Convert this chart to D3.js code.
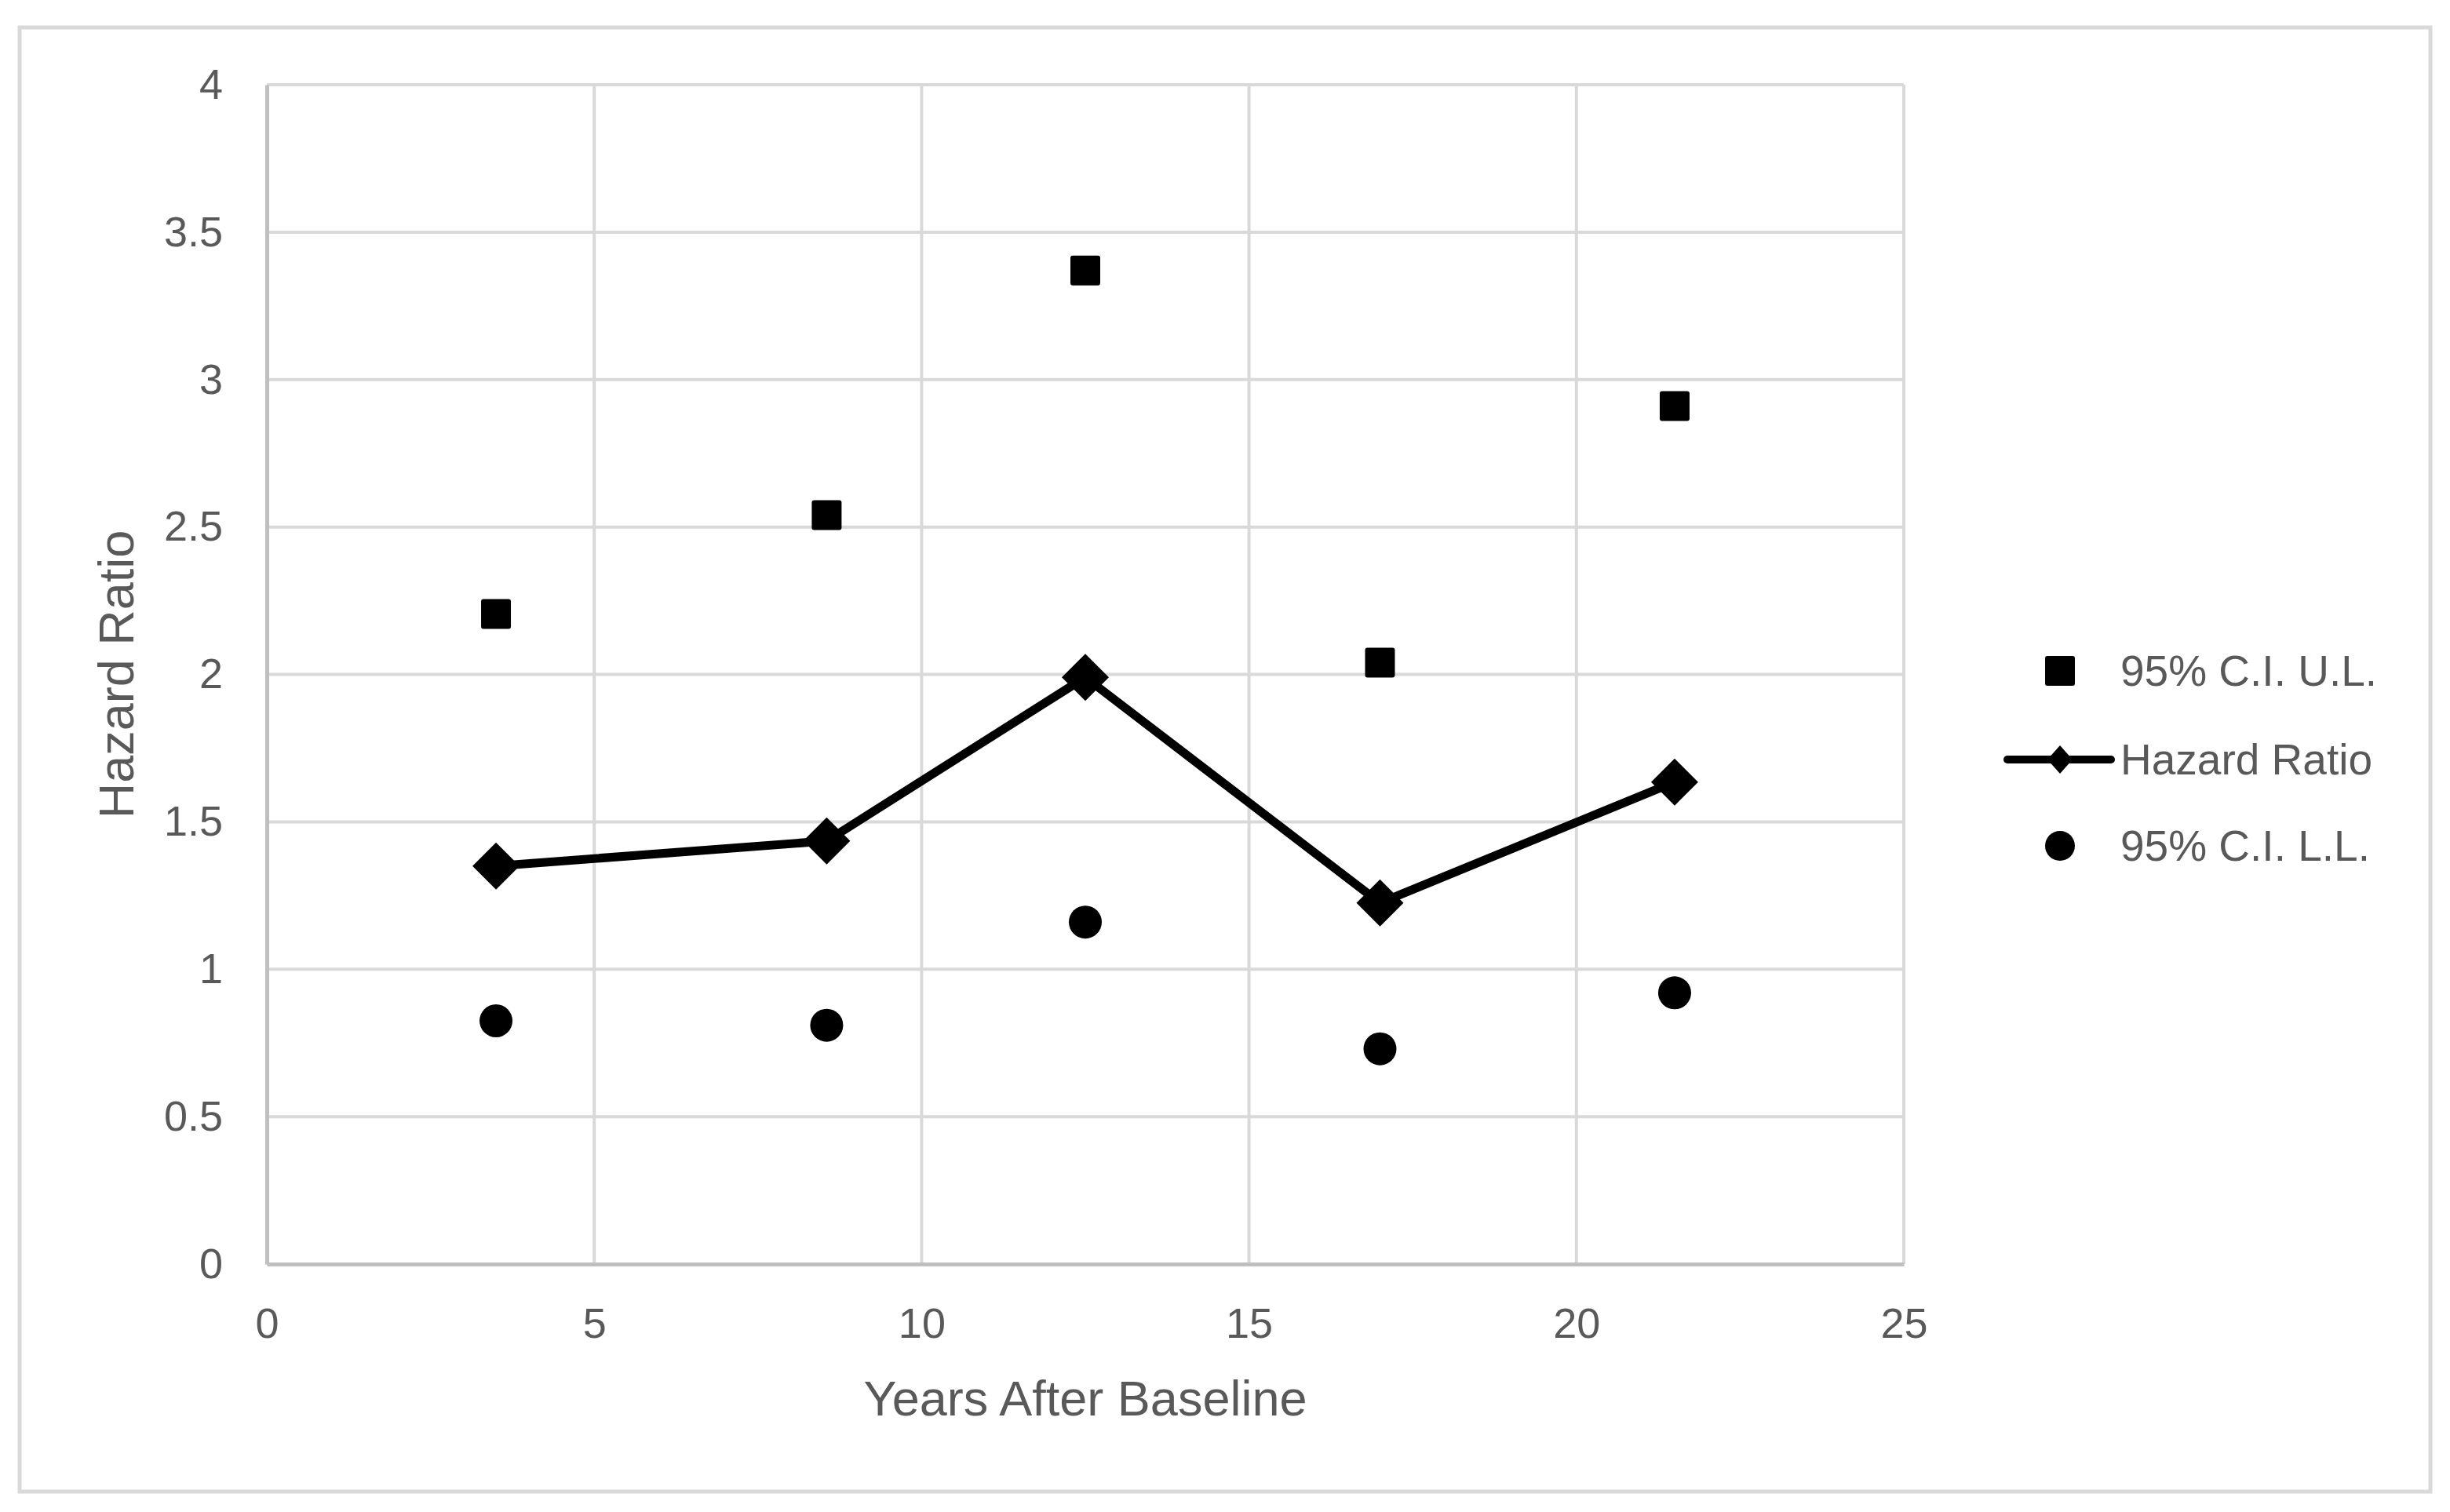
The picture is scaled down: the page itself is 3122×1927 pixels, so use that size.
<!DOCTYPE html>
<html>
<head>
<meta charset="utf-8">
<script src="https://cdn.jsdelivr.net/npm/d3@7"></script>
<style>
  html, body { margin: 0; padding: 0; background: #ffffff; }
  svg { display: block; }
</style>
</head>
<body>
<div id="chart"></div>
<script>
// ---- Data ----
const years = [3.5, 8.55, 12.5, 17, 21.5];
const hazardRatio = [1.35, 1.435, 1.99, 1.225, 1.635];
const ciUpper = [2.205, 2.54, 3.37, 2.04, 2.91];
const ciLower = [0.825, 0.81, 1.16, 0.73, 0.92];
const xTicks = [0, 5, 10, 15, 20, 25];
const yTicks = [0, 0.5, 1, 1.5, 2, 2.5, 3, 3.5, 4];
const seriesNames = ["95% C.I. U.L.", "Hazard Ratio", "95% C.I. L.L."];
const xTitle = "Years After Baseline";
const yTitle = "Hazard Ratio";

// ---- Layout ----
const W = 3122, H = 1927;
const plot = { left: 340, right: 2426, top: 108, bottom: 1611 };
const textColor = "#595959";
const gridColor = "#d9d9d9";
const axisColor = "#bfbfbf";
const tickFont = "'Liberation Sans', Arial, sans-serif";

const svg = d3.select("#chart").append("svg")
  .attr("width", W).attr("height", H);

// outer border
svg.append("rect")
  .attr("x", 25).attr("y", 35)
  .attr("width", 3097 - 25).attr("height", 1901 - 35)
  .attr("fill", "#ffffff")
  .attr("stroke", gridColor).attr("stroke-width", 5);

const x = d3.scaleLinear().domain([0, 25]).range([plot.left, plot.right]);
const y = d3.scaleLinear().domain([0, 4]).range([plot.bottom, plot.top]);

// gridlines
const grid = svg.append("g");
grid.selectAll("line.h").data(yTicks.filter(d => d > 0)).join("line")
  .attr("x1", plot.left).attr("x2", plot.right)
  .attr("y1", d => y(d)).attr("y2", d => y(d))
  .attr("stroke", gridColor).attr("stroke-width", 4);
grid.selectAll("line.v").data(xTicks.filter(d => d > 0)).join("line")
  .attr("y1", plot.top).attr("y2", plot.bottom)
  .attr("x1", d => x(d)).attr("x2", d => x(d))
  .attr("stroke", gridColor).attr("stroke-width", 4);

// axes
const yAxis = svg.append("g")
  .attr("transform", `translate(${plot.left},0)`)
  .call(d3.axisLeft(y).tickValues(yTicks).tickFormat(d => String(d)).tickSize(0).tickPadding(56));
const xAxis = svg.append("g")
  .attr("transform", `translate(0,${plot.bottom})`)
  .call(d3.axisBottom(x).tickValues(xTicks).tickFormat(d => String(d)).tickSize(0).tickPadding(56));
[yAxis, xAxis].forEach(g => {
  g.select(".domain").attr("stroke", axisColor).attr("stroke-width", 5);
  g.selectAll("text")
    .attr("fill", textColor)
    .style("font-family", tickFont)
    .style("font-size", "54px");
});

// axis titles
svg.append("text")
  .attr("x", (plot.left + plot.right) / 2).attr("y", 1782)
  .attr("text-anchor", "middle").attr("dominant-baseline", "central")
  .attr("fill", textColor)
  .style("font-family", tickFont).style("font-size", "63px")
  .text(xTitle);
svg.append("text")
  .attr("transform", `translate(148,${(plot.top + plot.bottom) / 2}) rotate(-90)`)
  .attr("text-anchor", "middle").attr("dominant-baseline", "central")
  .attr("fill", textColor)
  .style("font-family", tickFont).style("font-size", "63px")
  .text(yTitle);

// markers
const sqSize = 38, circR = 21, diaHalf = 30;
function diamondPath(cx, cy, h) {
  return `M${cx},${cy - h}L${cx + h},${cy}L${cx},${cy + h}L${cx - h},${cy}Z`;
}

const marks = svg.append("g");
// upper limit squares
marks.selectAll("rect.ul").data(years).join("rect")
  .attr("class", "ul")
  .attr("x", (d) => x(d) - sqSize / 2)
  .attr("y", (d, i) => y(ciUpper[i]) - sqSize / 2)
  .attr("width", sqSize).attr("height", sqSize).attr("rx", 3)
  .attr("fill", "#000");

// hazard ratio line
const line = d3.line().x(d => x(d[0])).y(d => y(d[1]));
marks.append("path")
  .datum(years.map((d, i) => [d, hazardRatio[i]]))
  .attr("d", line)
  .attr("fill", "none").attr("stroke", "#000")
  .attr("stroke-width", 11).attr("stroke-linejoin", "round").attr("stroke-linecap", "round");
marks.selectAll("path.hr").data(years).join("path")
  .attr("class", "hr")
  .attr("d", (d, i) => diamondPath(x(d), y(hazardRatio[i]), diaHalf))
  .attr("fill", "#000");

// lower limit circles
marks.selectAll("circle.ll").data(years).join("circle")
  .attr("class", "ll")
  .attr("cx", d => x(d))
  .attr("cy", (d, i) => y(ciLower[i]))
  .attr("r", circR).attr("fill", "#000");

// legend
const legend = svg.append("g");
const legRows = [855, 968, 1078];
const legTextX = 2702;
legend.append("rect")
  .attr("x", 2625 - sqSize / 2).attr("y", legRows[0] - sqSize / 2)
  .attr("width", sqSize).attr("height", sqSize).attr("rx", 3).attr("fill", "#000");
legend.append("line")
  .attr("x1", 2558).attr("x2", 2690)
  .attr("y1", legRows[1]).attr("y2", legRows[1])
  .attr("stroke", "#000").attr("stroke-width", 10).attr("stroke-linecap", "round");
legend.append("path")
  .attr("d", `M2625,${legRows[1] - 18}L2641,${legRows[1]}L2625,${legRows[1] + 18}L2609,${legRows[1]}Z`)
  .attr("fill", "#000");
legend.append("circle").attr("cx", 2625).attr("cy", legRows[2]).attr("r", 19).attr("fill", "#000");
legend.selectAll("text").data(seriesNames).join("text")
  .attr("x", legTextX).attr("y", (d, i) => legRows[i])
  .attr("dominant-baseline", "central")
  .attr("fill", textColor)
  .style("font-family", tickFont).style("font-size", "55px")
  .text(d => d);
</script>
</body>
</html>
